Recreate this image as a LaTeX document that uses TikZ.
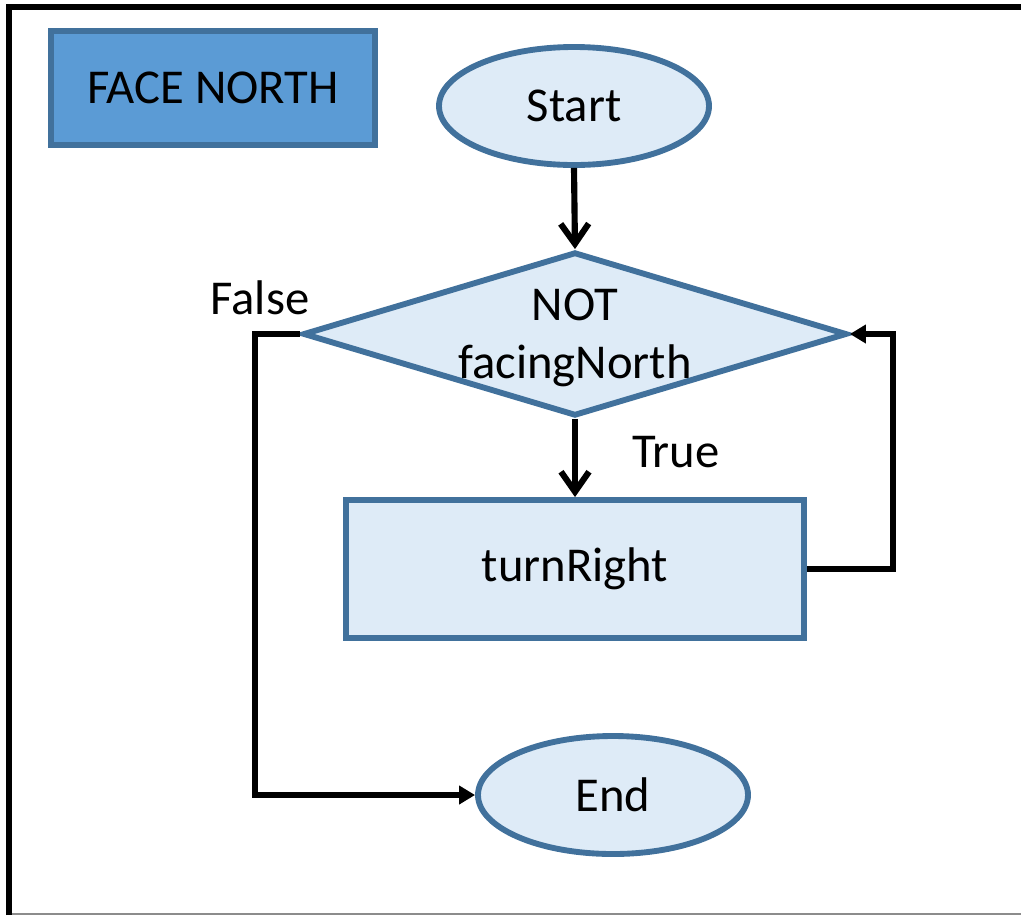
\documentclass[tikz,border=0pt]{standalone}
\usepackage{fontspec}
\setmainfont{Carlito}
\usetikzlibrary{shapes.geometric,arrows.meta}
\definecolor{boxfill}{HTML}{DEEBF7}
\definecolor{boxline}{HTML}{41719C}
\definecolor{titlefill}{HTML}{5B9BD5}
\definecolor{framegray}{HTML}{8C8C8C}
\begin{document}
\begin{tikzpicture}[x=0.75pt,y=-0.75pt,
  txt/.style={font=\fontsize{36.5}{43}\selectfont, text=black},
  shapebase/.style={draw=boxline, fill=boxfill, line width=4.4pt, inner sep=0pt, txt},
  terminal/.style={shapebase, ellipse, minimum width=202.5pt, minimum height=88.5pt},
  process/.style={shapebase, rectangle, minimum width=343.5pt, minimum height=103.5pt},
  decision/.style={shapebase, diamond, minimum width=408pt, minimum height=123pt},
  title/.style={draw=boxline, fill=titlefill, line width=4.4pt, rectangle, minimum width=243pt, minimum height=85.5pt, inner sep=0pt, txt},
  flow/.style={line width=4.6pt, black},
  openarrow/.style={flow, -{Straight Barb[length=15pt,width=21pt,line width=4.6pt]}},
  fillarrow/.style={flow, -{Triangle[length=12pt,width=13.5pt]}}
]
\useasboundingbox (0,0) rectangle (1021,915);
% page frame
\draw[line width=4.5pt, black] (9,915) -- (9,7) -- (1021,7);
\draw[line width=1.2pt, framegray] (12,914) -- (1021,914);

% nodes
\node[title] (face) at (213,88) {FACE NORTH};
\node[terminal] (start) at (574,106) {Start};
\node[decision] (dec) at (575,334) {};
\node[txt, align=center] (dectext) at (575,338) {NOT\\facingNorth};
\node[process] (turn) at (575,569) {turnRight};
\node[terminal] (finish) at (613,795) {End};

% branch labels
\node[txt] (falselbl) at (260,298) {False};
\node[txt] (truelbl) at (676,452) {True};

% routing corners
\coordinate (rcorner) at (893,334);
\coordinate (lcorner) at (255,334);

% connectors
\draw[openarrow] (start.south) -- (dec.north);
\draw[openarrow] (dec.south) -- (turn.north);
\draw[fillarrow] (turn.east) -| (rcorner) -- (dec.east);
\draw[fillarrow] (dec.west) -- (lcorner) |- (finish.west);
\end{tikzpicture}
\end{document}
